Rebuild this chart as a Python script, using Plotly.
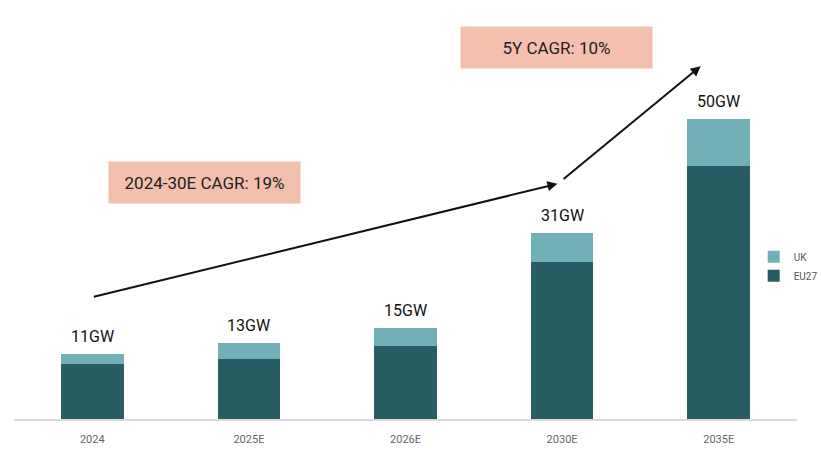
import plotly.graph_objects as go

categories = ["2024", "2025E", "2026E", "2030E", "2035E"]
eu27 = [9.2, 10.0, 12.2, 26.2, 42.2]
uk = [1.7, 2.7, 3.0, 4.8, 7.8]
totals = [a + b for a, b in zip(eu27, uk)]
value_labels = [f"{round(t)}GW" for t in totals]

C_EU = "#275d63"
C_UK = "#72b0b7"
BOX = "#f2c0ad"
FONT = "Roboto"

fig = go.Figure()
fig.add_trace(go.Bar(x=categories, y=eu27, name="EU27", marker=dict(color=C_EU, line=dict(width=0)), width=0.4))
fig.add_trace(go.Bar(x=categories, y=uk, name="UK", marker=dict(color=C_UK, line=dict(width=0)), width=0.4))

annotations = []
for i, (t, lab) in enumerate(zip(totals, value_labels)):
    annotations.append(dict(x=i, y=t, xref="x", yref="y", text=lab, showarrow=False, yanchor="bottom", yshift=6,
                            font=dict(family=FONT, size=16, color="#111111")))

# CAGR arrows
annotations.append(dict(x=2.97, y=39.2, ax=0.0, ay=20.3, xref="x", yref="y", axref="x", ayref="y",
                        text="", showarrow=True, arrowhead=2, arrowsize=1, arrowwidth=2, arrowcolor="#111111"))
annotations.append(dict(x=3.885, y=58.8, ax=3.0, ay=39.8, xref="x", yref="y", axref="x", ayref="y",
                        text="", showarrow=True, arrowhead=2, arrowsize=1, arrowwidth=2, arrowcolor="#111111"))

# CAGR boxes
annotations.append(dict(x=0.719, y=39.4, xref="x", yref="y", text="2024-30E CAGR: 19%", showarrow=False, bgcolor=BOX,
                        width=189, height=39, font=dict(family=FONT, size=17, color="#222222")))
annotations.append(dict(x=2.965, y=61.9, xref="x", yref="y", text="5Y CAGR: 10%", showarrow=False, bgcolor=BOX,
                        width=189, height=39, font=dict(family=FONT, size=17, color="#222222")))

fig.update_layout(
    barmode="stack",
    width=821, height=455,
    margin=dict(l=14, r=24, t=5, b=36, autoexpand=False),
    paper_bgcolor="white", plot_bgcolor="white",
    annotations=annotations,
    showlegend=True,
    legend=dict(xref="container", yref="container", x=0.918, xanchor="left", y=0.415, yanchor="middle",
                traceorder="reversed",
                font=dict(family=FONT, size=10, color="#555555"), itemwidth=30,
                bgcolor="rgba(0,0,0,0)", tracegroupgap=0),
    bargap=0.6,
)
fig.update_xaxes(type="category", showline=True, linecolor="#d9d9d9", linewidth=1.5, showgrid=False, ticks="",
                 ticklabelstandoff=9,
                 tickfont=dict(family=FONT, size=11, color="#666666"), range=[-0.5, 4.5])
fig.update_yaxes(range=[0, 69], visible=False, showgrid=False, zeroline=False)

fig.write_html("out.html")
